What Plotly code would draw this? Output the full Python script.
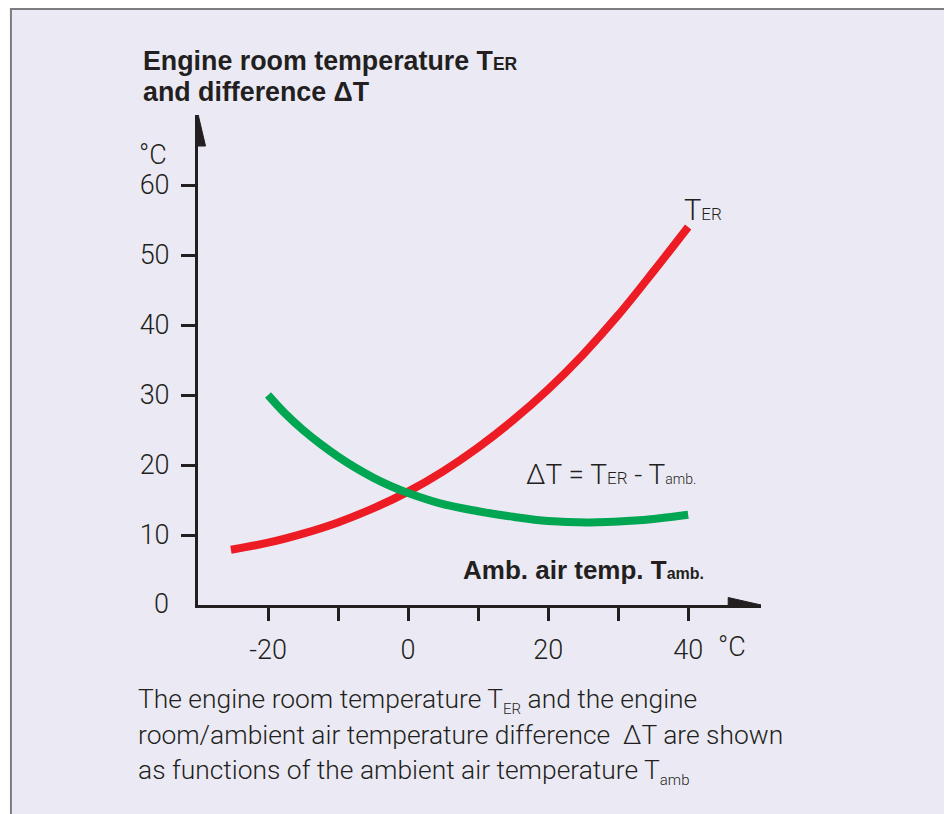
import plotly.graph_objects as go

# ---------------- data ----------------
t_amb_er = [-25.3, -20, -15, -10, -5, 0, 5, 10, 15, 20, 25, 30, 35, 40]
t_er = [7.9, 8.9, 10.2, 11.8, 13.8, 16.2, 19.1, 22.5, 26.4, 30.8, 35.8, 41.4, 47.6, 54.0]

t_amb_dt = [-20, -17.5, -15, -12.5, -10, -7.5, -5, -2.5, 0, 5, 10, 15, 20, 26, 33, 40]
delta_t = [30.0, 27.3, 25.0, 23.0, 21.2, 19.6, 18.2, 17.0, 16.0, 14.4, 13.4, 12.6, 12.0, 11.8, 12.1, 12.9]

x_tickvals = [-20, 0, 20, 40]
x_ticktext = ["-20", "0", "20", "40"]
x_minor_ticks = [-10, 10, 30]
y_tickvals = [10, 20, 30, 40, 50, 60]
y_ticktext = ["10", "20", "30", "40", "50", "60"]

# ---------------- geometry ----------------
W, H = 952, 814
OFF = 8                       # page body margin
X0_PAGE, PX_PER_X = 198, 7.0  # x=-30 at page pixel 198
Y0_PAGE, PX_PER_Y = 605, 7.0  # y=0 at page pixel 605
XR = [-30, 50.4]
YR = [0, 70]
left = X0_PAGE - OFF
right = W - (left + (XR[1] - XR[0]) * PX_PER_X)
bottom = H - (Y0_PAGE - OFF)
top = (Y0_PAGE - OFF) - (YR[1] - YR[0]) * PX_PER_Y
pw = W - left - right
ph = H - top - bottom


def dx(px):
    return XR[0] + (px - X0_PAGE) / PX_PER_X


def dy(py):
    return (Y0_PAGE - py) / PX_PER_Y


def pxp(px):
    return (px - OFF - left) / pw


def pyp(py):
    return (H - bottom - (py - OFF)) / ph


INK = "#231f20"
LIGHT = dict(family="Roboto, Liberation Sans, sans-serif", size=27, color=INK, weight=300)
BOLD = dict(family="Liberation Sans, Arial, sans-serif", size=26, color=INK, weight=700)

fig = go.Figure()

fig.add_trace(go.Scatter(x=t_amb_er, y=t_er, mode="lines", line=dict(color="#ed1c24", width=8, shape="spline"),
                         name="T_ER", showlegend=False, hoverinfo="skip"))
fig.add_trace(go.Scatter(x=t_amb_dt, y=delta_t, mode="lines", line=dict(color="#00a651", width=8, shape="spline"),
                         name="ΔT", showlegend=False, hoverinfo="skip"))

shapes = [
    # frame
    dict(type="rect", xref="paper", yref="paper", x0=pxp(11), x1=pxp(948), y0=pyp(840), y1=pyp(9),
         fillcolor="#ebeaf4", line=dict(color="#7d7d7f", width=2), layer="below"),
    # x arrowhead
    dict(type="path", xref="x", yref="y",
         path=f"M {dx(728)},{dy(597.5)} L {dx(761)},{dy(605)} L {dx(728)},{dy(612.5)} Z",
         fillcolor=INK, line=dict(color=INK, width=1)),
    # y arrowhead
    dict(type="path", xref="x", yref="y",
         path=f"M {dx(190.5)},{dy(146)} L {dx(198)},{dy(114)} L {dx(205.5)},{dy(146)} Z",
         fillcolor=INK, line=dict(color=INK, width=1)),
]

ann = []


def A(text, x, y, font, xanchor="left", yanchor="middle"):
    ann.append(dict(text=text, x=pxp(x), y=pyp(y), xref="paper", yref="paper", xanchor=xanchor,
                    yanchor=yanchor, showarrow=False, font=font))


# title
TITLE = dict(BOLD, size=26.8)
A("<b>Engine room temperature T<span style='font-size:17.5px'>ER</span></b>", 141, 61, TITLE)
A("<b>and difference ΔT</b>", 141, 92, TITLE)
# unit labels
A("°C", 137, 155, LIGHT)
A("°C", 716, 647, LIGHT)
A("0", 171, 604, LIGHT, xanchor="right")
# curve labels
A("T<span style='font-size:17px'>ER</span>", 682, 210, dict(LIGHT, size=29))
A("ΔT = T<span style='font-size:17px'>ER</span> - T<span style='font-size:14px'>amb.</span>", 524, 474,
  dict(LIGHT, size=28))
A("<b>Amb. air temp. T<span style='font-size:16px'>amb.</span></b>", 461, 570, BOLD)
# caption
CAP = dict(LIGHT, size=26.4)
A("The engine room temperature T<sub><span style='font-size:15px'>ER</span></sub> and the engine", 136, 701, CAP)
A("room/ambient air temperature difference  ΔT are shown", 136, 735, CAP)
A("as functions of the ambient air temperature T<sub><span style='font-size:15px'>amb</span></sub>", 136, 772, CAP)

fig.update_layout(
    width=W, height=H,
    margin=dict(l=left, r=right, t=top, b=bottom, pad=0),
    paper_bgcolor="white", plot_bgcolor="rgba(0,0,0,0)",
    shapes=shapes, annotations=ann,
    xaxis=dict(range=XR, showgrid=False, zeroline=False, showline=True, linewidth=3, linecolor=INK,
               ticks="outside", ticklen=13, tickwidth=3, tickcolor=INK,
               tickvals=x_tickvals, ticktext=x_ticktext, tickfont=LIGHT, ticklabelstandoff=6,
               minor=dict(tickvals=x_minor_ticks, ticks="outside", ticklen=13, tickwidth=3, tickcolor=INK,
                          showgrid=False)),
    yaxis=dict(range=YR, showgrid=False, zeroline=False, showline=True, linewidth=3, linecolor=INK,
               ticks="outside", ticklen=14, tickwidth=3, tickcolor=INK,
               tickvals=y_tickvals, ticktext=y_ticktext, tickfont=LIGHT, ticklabelstandoff=6),
)

fig.write_html("out.html")
